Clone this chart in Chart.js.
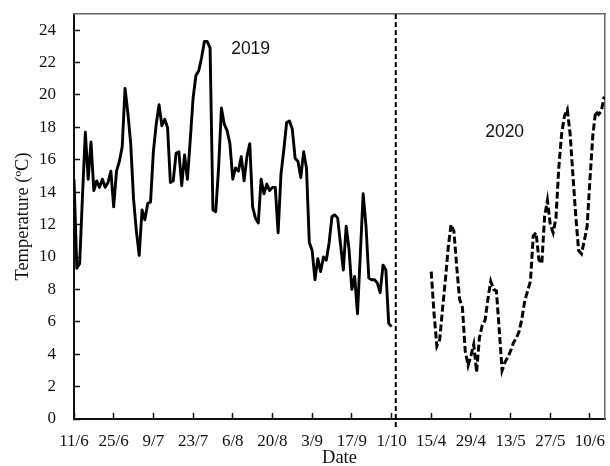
<!DOCTYPE html>
<html lang="en">
<head>
    <meta charset="UTF-8">
    <title>Temperature</title>
    <script src="https://cdn.jsdelivr.net/npm/chart.js@4.4.0/dist/chart.umd.min.js"></script>
    <style>
        body { margin: 0; background: #fff; }
        #chart { display: block; }
    </style>
</head>
<body>
    <canvas id="chart" width="610" height="466"></canvas>

    <script>
        // day 0 = 11/6/2019, one tick every 14 days; 2020 starts at day 126 (15/4)
        const tickDays = [0, 14, 28, 42, 56, 70, 84, 98, 112, 126, 140, 154, 168, 182];
        const tickLabels = ['11/6', '25/6', '9/7', '23/7', '6/8', '20/8', '3/9', '17/9', '1/10',
                            '15/4', '29/4', '13/5', '27/5', '10/6'];
        const yTicks = [0, 2, 4, 6, 8, 10, 12, 14, 16, 18, 20, 22, 24];

        const start2019 = 0;
        const temp2019 = [
            14.8, 9.3, 9.6, 13.8, 17.7, 14.8, 17.1, 14.1, 14.7, 14.3,
            14.8, 14.3, 14.6, 15.3, 13.1, 15.3, 15.9, 16.8, 20.4, 18.9,
            17.0, 13.6, 11.6, 10.1, 12.9, 12.3, 13.3, 13.4, 16.5, 18.2,
            19.4, 18.1, 18.5, 18.0, 14.6, 14.7, 16.4, 16.5, 14.4, 16.3,
            14.8, 17.2, 19.8, 21.2, 21.5, 22.3, 23.3, 23.3, 22.9, 12.9,
            12.8, 15.5, 19.2, 18.2, 17.8, 17.0, 14.8, 15.5, 15.3, 16.2,
            14.7, 16.2, 17.0, 13.1, 12.4, 12.1, 14.8, 13.9, 14.5, 14.1,
            14.3, 14.3, 11.5, 15.1, 16.6, 18.3, 18.4, 17.9, 16.1, 15.9,
            14.9, 16.5, 15.5, 10.9, 10.4, 8.6, 9.9, 9.1, 10.0, 9.8,
            10.9, 12.5, 12.6, 12.4, 10.8, 9.2, 11.9, 10.5, 8.0, 8.8,
            6.5, 10.2, 13.9, 11.9, 8.7, 8.6, 8.6, 8.4, 7.8, 9.5,
            9.2, 5.9, 5.7
        ];

        const start2020 = 126;
        const temp2020 = [
            9.1, 6.5, 4.5, 4.9, 6.8, 8.6, 10.6, 12.0, 11.6, 9.4,
            7.4, 6.9, 4.2, 3.3, 3.9, 4.6, 2.9, 5.0, 5.8, 6.1,
            7.4, 8.5, 8.0, 7.9, 5.5, 3.0, 3.5, 3.8, 4.2, 4.7,
            5.0, 5.4, 6.2, 7.3, 7.9, 8.5, 11.3, 11.5, 9.8, 9.6,
            12.5, 13.5, 12.0, 11.5, 12.4, 15.5, 17.6, 18.7, 19.1, 17.6,
            15.0, 12.5, 10.4, 10.2, 11.0, 11.9, 14.8, 17.5, 19.0, 18.8,
            19.0, 19.9
        ];

        const dividerDay = 113.5;
        const yearNames = ['2019', '2020'];

        const toPoints = (start, values) => values.map((v, i) => ({ x: start + i, y: v }));

        const serif = '"Liberation Serif", "Times New Roman", serif';
        const sans = '"Liberation Sans", Arial, sans-serif';

        // stop the tick labels from pushing the plot area inwards
        const noPadding = axis => {
            axis.paddingTop = 0;
            axis.paddingBottom = 0;
            axis.paddingLeft = 0;
            axis.paddingRight = 0;
        };

        // writes the year names inside the plot
        const yearText = {
            id: 'yearText',
            afterDatasetsDraw(chart, args, opts) {
                const { ctx, scales } = chart;
                ctx.save();
                ctx.font = '17.5px ' + sans;
                ctx.fillStyle = '#111';
                ctx.textAlign = 'center';
                ctx.textBaseline = 'middle';
                yearNames.forEach((name, i) => {
                    ctx.fillText(name, scales.x.getPixelForValue(opts.at[i][0]), scales.y.getPixelForValue(opts.at[i][1]));
                });
                ctx.restore();
            }
        };

        new Chart(document.getElementById('chart'), {
            type: 'line',
            data: {
                datasets: [
                    {
                        data: toPoints(start2019, temp2019),
                        borderColor: '#000',
                        borderWidth: 2.9,
                        borderJoinStyle: 'round',
                        pointRadius: 0,
                        tension: 0
                    },
                    {
                        data: toPoints(start2020, temp2020),
                        borderColor: '#000',
                        borderWidth: 3,
                        borderDash: [7, 3],
                        pointRadius: 0,
                        tension: 0
                    },
                    {
                        data: [{ x: dividerDay, y: -0.5 }, { x: dividerDay, y: 25 }],
                        borderColor: '#000',
                        borderWidth: 2,
                        borderDash: [5, 3],
                        pointRadius: 0,
                        clip: false
                    }
                ]
            },
            options: {
                responsive: false,
                animation: false,
                devicePixelRatio: 1,
                layout: { padding: { top: 14, right: 5, bottom: 0, left: 0 } },
                plugins: {
                    legend: { display: false },
                    tooltip: { enabled: false },
                    yearText: { at: [[62.3, 22.8], [151.9, 17.7]] }
                },
                scales: {
                    x: {
                        type: 'linear',
                        min: 0,
                        max: 187.3,
                        afterBuildTicks: axis => { axis.ticks = tickDays.map(v => ({ value: v })); },
                        afterFit: axis => { axis.height = 47; noPadding(axis); },
                        ticks: {
                            autoSkip: false,
                            maxRotation: 0,
                            padding: 18,
                            color: '#111',
                            font: { family: serif, size: 17 },
                            callback: (v, i) => tickLabels[i]
                        },
                        grid: { drawOnChartArea: false, tickLength: -6, tickColor: '#111', tickWidth: 1.5 },
                        border: { color: '#111', width: 2 },
                        title: {
                            display: true,
                            text: 'Date',
                            color: '#111',
                            font: { family: serif, size: 18.5 },
                            padding: { top: 0, bottom: -3 }
                        }
                    },
                    y: {
                        min: 0,
                        max: 25,
                        afterBuildTicks: axis => { axis.ticks = yTicks.map(v => ({ value: v })); },
                        afterFit: axis => { axis.width = 74; noPadding(axis); },
                        ticks: {
                            padding: 24,
                            color: '#111',
                            font: { family: serif, size: 17 }
                        },
                        grid: { drawOnChartArea: false, tickLength: -6, tickColor: '#111', tickWidth: 1.5 },
                        border: { color: '#111', width: 2 },
                        title: {
                            display: true,
                            text: 'Temperature (ºC)',
                            color: '#111',
                            font: { family: serif, size: 18.5 },
                            padding: { top: 12, bottom: 0 }
                        }
                    },
                    // grey frame on top and right
                    xTop: {
                        type: 'linear',
                        position: 'top',
                        min: 0,
                        max: 1,
                        afterFit: axis => { axis.height = 0; noPadding(axis); },
                        ticks: { display: false },
                        grid: { display: false },
                        border: { color: '#666', width: 1.5 }
                    },
                    yRight: {
                        type: 'linear',
                        position: 'right',
                        min: 0,
                        max: 1,
                        afterFit: axis => { axis.width = 0; noPadding(axis); },
                        ticks: { display: false },
                        grid: { display: false },
                        border: { color: '#666', width: 1.5 }
                    }
                }
            },
            plugins: [yearText]
        });
    </script>
</body>
</html>
